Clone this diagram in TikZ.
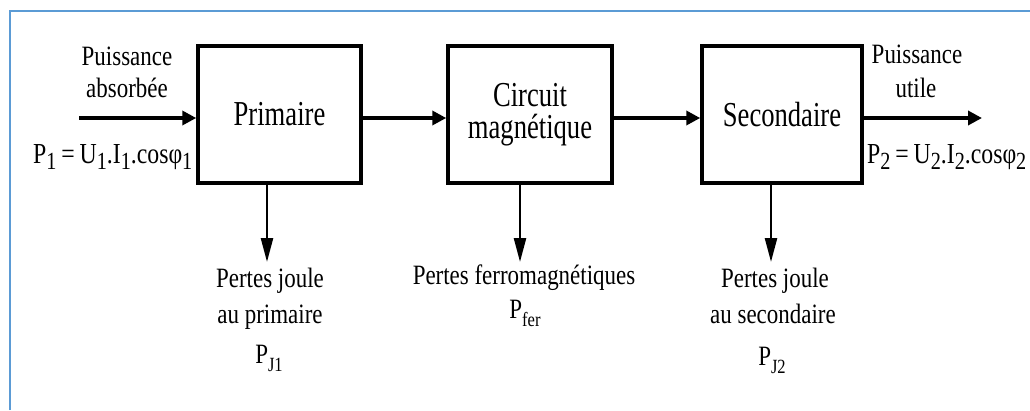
\documentclass[tikz,border=0pt]{standalone}
\usepackage{fontspec}
\setmainfont{Liberation Serif}
\newfontfamily\lblfont[FakeStretch=0.82]{Liberation Serif}
\newfontfamily\boxfont[FakeStretch=0.76]{Liberation Serif}
\usetikzlibrary{arrows.meta}
\newcommand\dn[1]{\raisebox{-0.22em}{\scalebox{0.85}{#1}}}
\newcommand\dnn[1]{\raisebox{-0.3em}{\scalebox{0.72}{#1}}}
\definecolor{frameblue}{RGB}{91,155,213}
\begin{document}
\begin{tikzpicture}[x=1pt,y=-1pt,
  blk/.style={draw, line width=3.5pt, minimum width=#1, minimum height=137pt,
    inner sep=0pt, align=center, font=\boxfont\fontsize{35}{32}\selectfont},
  lbl/.style={inner sep=0pt, anchor=base, font=\lblfont\fontsize{28}{30}\selectfont},
  eqn/.style={inner sep=0pt, anchor=base west, font=\lblfont\fontsize{29}{30}\selectfont},
  harrow/.style={line width=4pt, -{Triangle[length=14pt,width=14pt]}},
  varrow/.style={line width=2.5pt, -{Triangle[length=24pt,width=12pt]}}]
\useasboundingbox (0,0) rectangle (1030,410);
\fill[white] (0,0) rectangle (1030,410);
\draw[frameblue, line width=2pt] (10,410) -- (10,11) -- (1030,11);

% blocks
\node[blk=163pt] (b1) at (279.5,114.5) {Primaire};
\node[blk=164pt] (b2) at (530,114.5) {Circuit\\magnétique};
\node[blk=160pt] (b3) at (782,114.5) {Secondaire};

% main flow
\coordinate (src) at (79,118);
\coordinate (dst) at (982,118);
\draw[harrow] (src) -- (src -| b1.west);
\draw[harrow] (b1.east |- src) -- (b2.west |- src);
\draw[harrow] (b2.east |- src) -- (b3.west |- src);
\draw[harrow] (b3.east |- src) -- (dst);

% input / output labels
\node[lbl] (pa1) at (127,65) {Puissance};
\node[lbl] (pa2) at (127,97) {absorbée};
\node[eqn] (p1) at (33,163) {P\dn{1}\,=\,U\dn{1}.I\dn{1}.cosφ\dn{1}};
\node[lbl] (pu1) at (917,63) {Puissance};
\node[lbl] (pu2) at (916,97) {utile};
\node[eqn] (p2) at (867,163) {P\dn{2}\,=\,U\dn{2}.I\dn{2}.cosφ\dn{2}};

% losses
\coordinate (l1) at (267,262);
\coordinate (l2) at (520,262);
\coordinate (l3) at (771,262);
\draw[varrow] (b1.south -| l1) -- (l1);
\draw[varrow] (b2.south -| l2) -- (l2);
\draw[varrow] (b3.south -| l3) -- (l3);

\node[lbl] (j1a) at (270,287) {Pertes joule};
\node[lbl] (j1b) at (270,323) {au primaire};
\node[lbl] (j1c) at (269,363) {P\dnn{J1}};

\node[lbl] (fa) at (524,284) {Pertes ferromagnétiques};
\node[lbl] (fb) at (525,318) {P\dnn{fer}};

\node[lbl] (j2a) at (775,287) {Pertes joule};
\node[lbl] (j2b) at (773,323) {au secondaire};
\node[lbl] (j2c) at (772,365) {P\dnn{J2}};
\end{tikzpicture}
\end{document}
